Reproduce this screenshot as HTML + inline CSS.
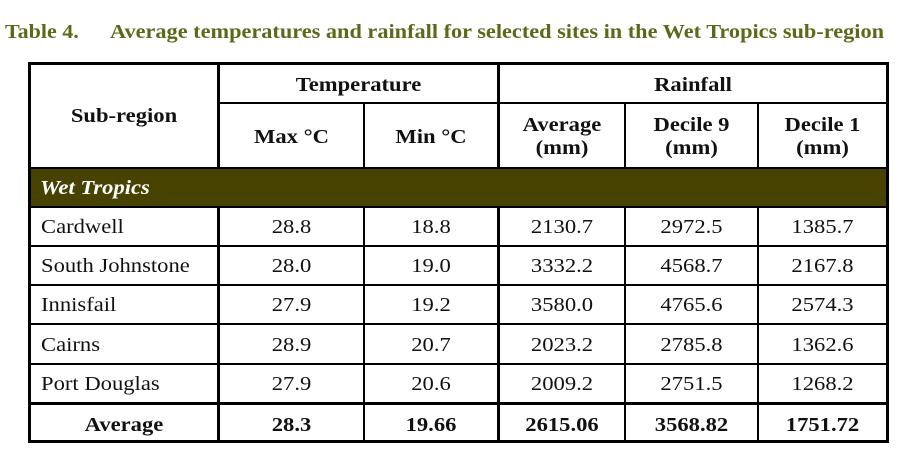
<!DOCTYPE html>
<html><head><style>
body{margin:0;width:903px;height:453px;background:#fff;position:relative;overflow:hidden;font-family:"Liberation Serif",serif;}
.t{position:absolute;white-space:nowrap;font-size:20px;color:#111;transform:scaleX(1.13);transform-origin:0 50%;}
.c{position:absolute;text-align:center;font-size:20px;color:#111;line-height:23px;transform:scaleX(1.13);}
.b{font-weight:bold;}
.h{position:absolute;background:#000;}
</style></head><body>
<div class="t b" style="left:5px;top:21px;color:#5b6a1a;font-size:20px;transform:scaleX(1.1);">Table 4.</div>
<div class="t b" style="left:110px;top:21px;color:#5b6a1a;font-size:20px;transform:scaleX(1.115);">Average temperatures and rainfall for selected sites in the Wet Tropics sub-region</div>

<div style="position:absolute;left:30px;top:168px;width:857px;height:39px;background:#474200;"></div>
<div class="t b" style="left:40px;top:177px;color:#fff;font-style:italic;">Wet Tropics</div>

<div class="h" style="left:28px;top:62px;width:861px;height:3px;"></div>
<div class="h" style="left:28px;top:440px;width:861px;height:3px;"></div>
<div class="h" style="left:28px;top:62px;width:3px;height:381px;"></div>
<div class="h" style="left:886px;top:62px;width:3px;height:381px;"></div>
<div class="h" style="left:217px;top:62px;width:3px;height:106px;"></div>
<div class="h" style="left:217px;top:207px;width:3px;height:235px;"></div>
<div class="h" style="left:497px;top:62px;width:3px;height:106px;"></div>
<div class="h" style="left:497px;top:207px;width:3px;height:235px;"></div>
<div class="h" style="left:363px;top:102px;width:2px;height:66px;"></div>
<div class="h" style="left:363px;top:207px;width:2px;height:235px;"></div>
<div class="h" style="left:624px;top:102px;width:2px;height:66px;"></div>
<div class="h" style="left:624px;top:207px;width:2px;height:235px;"></div>
<div class="h" style="left:757px;top:102px;width:2px;height:66px;"></div>
<div class="h" style="left:757px;top:207px;width:2px;height:235px;"></div>
<div class="h" style="left:218px;top:102px;width:670px;height:2px;"></div>
<div class="h" style="left:28px;top:167px;width:861px;height:2px;"></div>
<div class="h" style="left:28px;top:206px;width:861px;height:2px;"></div>
<div class="h" style="left:28px;top:245px;width:861px;height:2px;"></div>
<div class="h" style="left:28px;top:284px;width:861px;height:2px;"></div>
<div class="h" style="left:28px;top:323px;width:861px;height:2px;"></div>
<div class="h" style="left:28px;top:363px;width:861px;height:2px;"></div>
<div class="h" style="left:28px;top:402px;width:861px;height:3px;"></div>

<div class="c b" style="left:31px;width:186px;top:105px;">Sub-region</div>
<div class="c b" style="left:220px;width:277px;top:74px;">Temperature</div>
<div class="c b" style="left:500px;width:386px;top:74px;">Rainfall</div>
<div class="c b" style="left:220px;width:143px;top:126px;">Max °C</div>
<div class="c b" style="left:365px;width:132px;top:126px;">Min °C</div>
<div class="c b" style="left:500px;width:124px;top:114px;">Average<br>(mm)</div>
<div class="c b" style="left:626px;width:131px;top:114px;">Decile 9<br>(mm)</div>
<div class="c b" style="left:759px;width:127px;top:114px;">Decile 1<br>(mm)</div>

<div class="t" style="left:41px;top:216px;">Cardwell</div>
<div class="t" style="left:41px;top:255px;">South Johnstone</div>
<div class="t" style="left:41px;top:294px;">Innisfail</div>
<div class="t" style="left:41px;top:334px;">Cairns</div>
<div class="t" style="left:41px;top:373px;">Port Douglas</div>
<div class="c b" style="left:31px;width:186px;top:414px;">Average</div>

<div class="c" style="left:220px;width:143px;top:216px;">28.8</div>
<div class="c" style="left:365px;width:132px;top:216px;">18.8</div>
<div class="c" style="left:500px;width:124px;top:216px;">2130.7</div>
<div class="c" style="left:626px;width:131px;top:216px;">2972.5</div>
<div class="c" style="left:759px;width:127px;top:216px;">1385.7</div>

<div class="c" style="left:220px;width:143px;top:255px;">28.0</div>
<div class="c" style="left:365px;width:132px;top:255px;">19.0</div>
<div class="c" style="left:500px;width:124px;top:255px;">3332.2</div>
<div class="c" style="left:626px;width:131px;top:255px;">4568.7</div>
<div class="c" style="left:759px;width:127px;top:255px;">2167.8</div>

<div class="c" style="left:220px;width:143px;top:294px;">27.9</div>
<div class="c" style="left:365px;width:132px;top:294px;">19.2</div>
<div class="c" style="left:500px;width:124px;top:294px;">3580.0</div>
<div class="c" style="left:626px;width:131px;top:294px;">4765.6</div>
<div class="c" style="left:759px;width:127px;top:294px;">2574.3</div>

<div class="c" style="left:220px;width:143px;top:334px;">28.9</div>
<div class="c" style="left:365px;width:132px;top:334px;">20.7</div>
<div class="c" style="left:500px;width:124px;top:334px;">2023.2</div>
<div class="c" style="left:626px;width:131px;top:334px;">2785.8</div>
<div class="c" style="left:759px;width:127px;top:334px;">1362.6</div>

<div class="c" style="left:220px;width:143px;top:373px;">27.9</div>
<div class="c" style="left:365px;width:132px;top:373px;">20.6</div>
<div class="c" style="left:500px;width:124px;top:373px;">2009.2</div>
<div class="c" style="left:626px;width:131px;top:373px;">2751.5</div>
<div class="c" style="left:759px;width:127px;top:373px;">1268.2</div>

<div class="c b" style="left:220px;width:143px;top:414px;">28.3</div>
<div class="c b" style="left:365px;width:132px;top:414px;">19.66</div>
<div class="c b" style="left:500px;width:124px;top:414px;">2615.06</div>
<div class="c b" style="left:626px;width:131px;top:414px;">3568.82</div>
<div class="c b" style="left:759px;width:127px;top:414px;">1751.72</div>
</body></html>
